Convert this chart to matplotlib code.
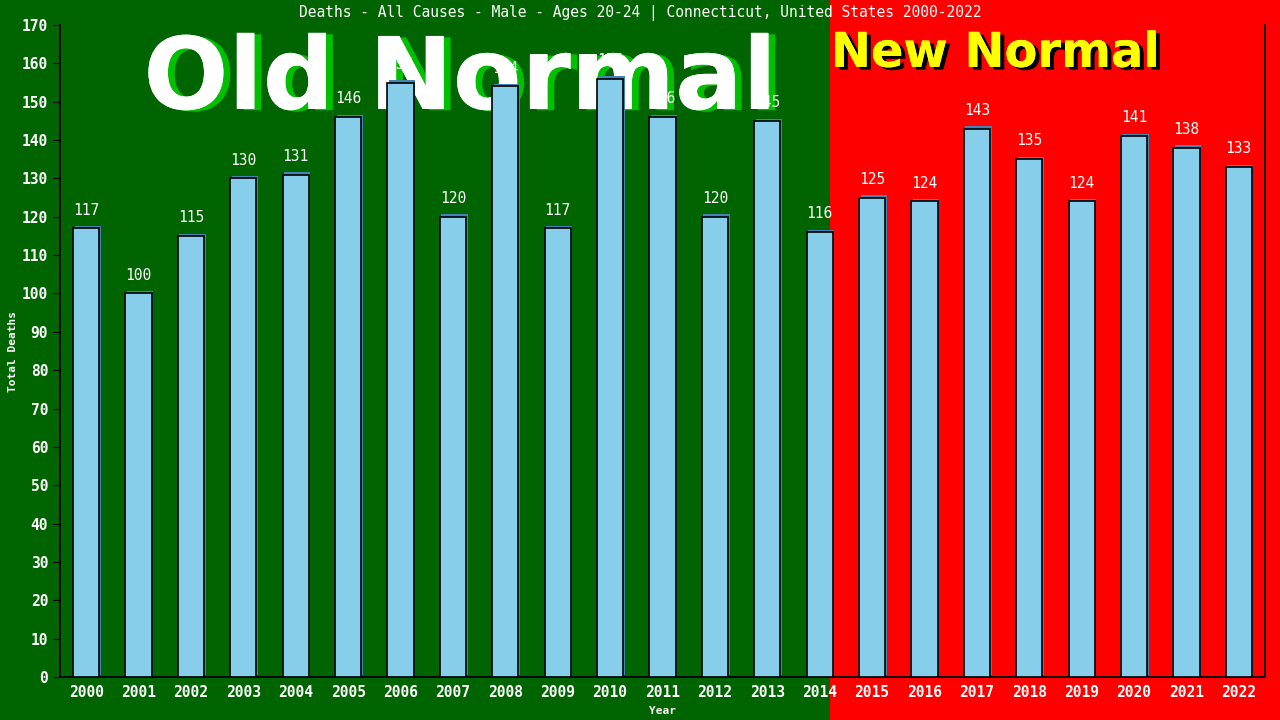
import numpy as np
from matplotlib import pyplot as plt
import matplotlib.patheffects as pe

years = [str(y) for y in range(2000, 2023)]
deaths = [117, 100, 115, 130, 131, 146, 155, 120, 154, 117, 156, 146,
          120, 145, 116, 125, 124, 143, 135, 124, 141, 138, 133]
split_at = 14.25  # between 2014 and 2015

fig = plt.figure(figsize=(12.8, 7.2), dpi=100)
fig.patch.set_facecolor('#ff0000')
# green background on the left part of the whole figure
fig.patches.append(plt.Rectangle((0, 0), 829.5 / 1280, 1, transform=fig.transFigure,
                                 facecolor='#006400', edgecolor='none', zorder=-5))

ax = fig.add_axes([60 / 1280, 43 / 720, 1205 / 1280, 652 / 720])
ax.set_facecolor('none')
x = np.arange(len(years))

# big labels behind the bars
ax.text(460 / 1280, 0.887, 'Old Normal', ha='center', va='center', color='white',
        fontsize=72, fontweight='bold', family='DejaVu Sans', zorder=1,
        transform=fig.transFigure, clip_on=False,
        path_effects=[pe.withSimplePatchShadow(offset=(5, -1), shadow_rgbFace='#00c000', alpha=1),
                      pe.Normal()])
ax.text(995 / 1280, 0.926, 'New Normal', ha='center', va='center', color='#ffff00',
        fontsize=34.5, fontweight='bold', family='DejaVu Sans', zorder=1,
        transform=fig.transFigure, clip_on=False,
        path_effects=[pe.withSimplePatchShadow(offset=(3, -2), shadow_rgbFace='black', alpha=1),
                      pe.Normal()])

# shadow then main bars
ax.bar(x + 0.03, deaths, width=0.5, bottom=0.6, color='#4682b4', zorder=2)
ax.bar(x, deaths, width=0.5, color='#87ceeb', edgecolor='black', linewidth=1.2, zorder=3)

mono = 'DejaVu Sans Mono'
for xi, v in zip(x, deaths):
    ax.text(xi, v + 2.8, str(v), ha='center', va='bottom', color='white',
            fontsize=10.5, family=mono, zorder=4)

ax.set_xlim(-0.5, 22.5)
ax.set_ylim(0, 170)
ax.set_yticks(range(0, 171, 10))
ax.set_xticks(x)
ax.set_xticklabels(years)
ax.tick_params(axis='both', colors='black', labelcolor='white', labelsize=10.5, length=5)
ax.tick_params(axis='x', length=0, pad=6)
for lbl in ax.get_xticklabels() + ax.get_yticklabels():
    lbl.set_family(mono)
    lbl.set_fontweight('bold')
for s in ['left', 'bottom', 'right']:
    ax.spines[s].set_color('black')
    ax.spines[s].set_linewidth(1.3)
ax.spines['top'].set_visible(False)

ax.set_xlabel('Year', color='white', fontsize=8, family=mono, fontweight='bold', labelpad=4)
ax.set_ylabel('Total Deaths', color='white', fontsize=8, family=mono, fontweight='bold')
ax.yaxis.set_label_coords(-0.035, 0.5)

fig.text(0.5, 0.982, 'Deaths - All Causes - Male - Ages 20-24 | Connecticut, United States 2000-2022',
         ha='center', va='center', color='white', fontsize=10.5, family=mono)

plt.savefig('out.png', dpi=100, facecolor=fig.get_facecolor())
